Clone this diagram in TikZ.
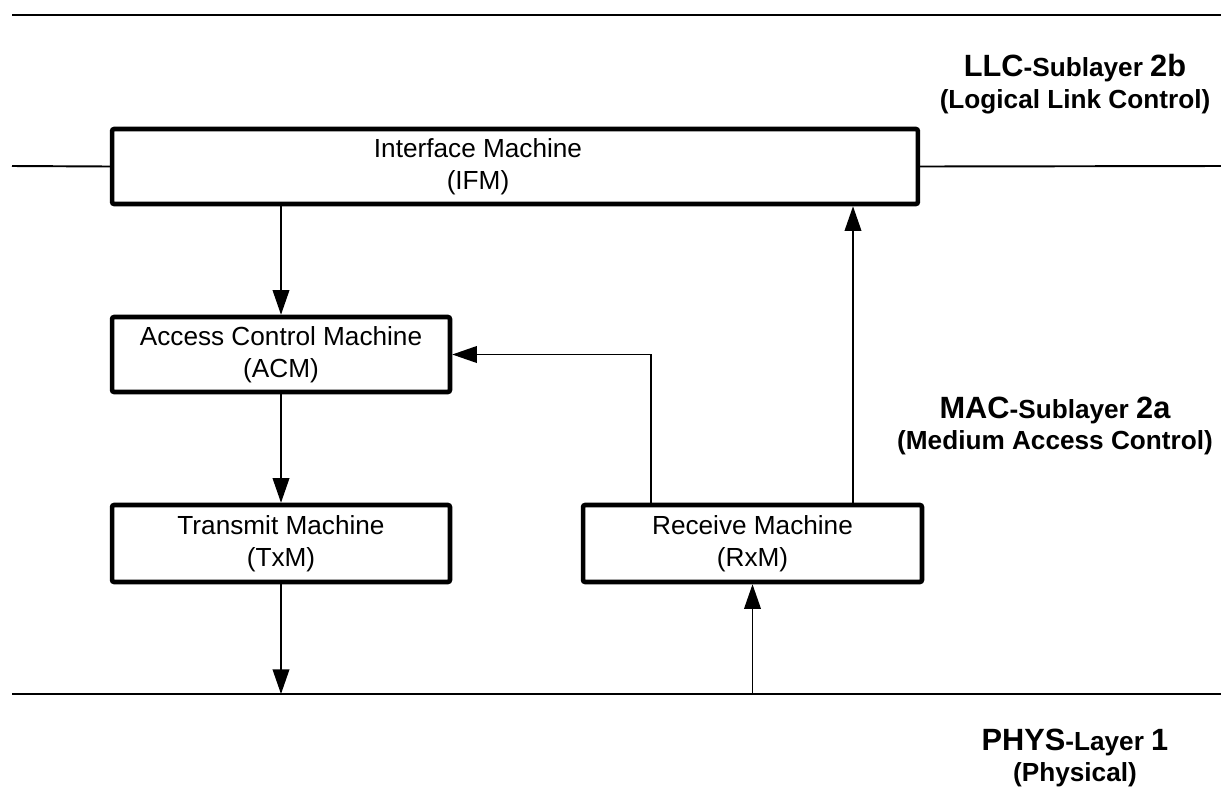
\documentclass[tikz,border=0pt]{standalone}
\usepackage{fontspec}
\setmainfont{Liberation Sans}
\usetikzlibrary{arrows.meta}

\tikzstyle{machine}=[draw=black,line width=2.6pt,rounded corners=1.2pt,fill=white,inner sep=0pt,align=center,font=\fontsize{14.9}{18}\selectfont]
\tikzstyle{boxtext}=[inner sep=0pt,align=center,font=\fontsize{14.9}{18}\selectfont]
\tikzstyle{layerline}=[draw=black,line width=1.1pt]
\tikzstyle{flow}=[draw=black,line width=0.8pt,-{Triangle[length=14pt,width=9.5pt]}]
\tikzstyle{sublayer}=[inner sep=0pt,align=center,font=\fontsize{14.9}{18}\selectfont\bfseries]
\newcommand{\layername}[1]{{\fontsize{17.5}{18}\selectfont #1}}

\begin{document}
\begin{tikzpicture}[x=0.02cm,y=-0.02cm]
   \useasboundingbox (0,0) rectangle (1221,802);

   \draw[layerline] (12,15) coordinate(topl) -- (1221,15) coordinate(topr);
   \draw[layerline] (12,694) coordinate(physl) -- (1221,694) coordinate(physr);

   \node[machine,minimum width=16.12cm,minimum height=1.5cm] (ifm) at (515,166.5) {};
   \node[boxtext] (ifmtext) at (478,166.5) {Interface Machine\\(IFM)};
   \node[machine,minimum width=6.76cm,minimum height=1.5cm] (acm) at (281,354.5) {Access Control Machine\\(ACM)};
   \node[machine,minimum width=6.76cm,minimum height=1.54cm] (txm) at (281,543.5) {Transmit Machine\\(TxM)};
   \node[machine,minimum width=6.78cm,minimum height=1.54cm] (rxm) at (752.5,543.5) {Receive Machine\\(RxM)};

   \draw[layerline] (12,166) coordinate(llcl) -- (ifm.west);
   \draw[layerline] (ifm.east) -- (1221,166) coordinate(llcr);

   \coordinate (back) at (651,0);
   \coordinate (up) at (853,0);

   \draw[flow] (ifm.south -| acm.north) -- (acm.north);
   \draw[flow] (acm.south) -- (txm.north);
   \draw[flow] (txm.south) -- (txm.south |- physl);
   \draw[flow] (rxm.south |- physl) -- (rxm.south);
   \draw[flow] (rxm.north -| up) -- (ifm.south -| up);
   \draw[flow] (rxm.north -| back) -- (back |- acm.east) -- (acm.east);

   \node[sublayer] (llc) at (1075,84) {\layername{LLC}-Sublayer \layername{2b}\\(Logical Link Control)};
   \node[sublayer] (mac) at (1055,426) {\layername{MAC}-Sublayer \layername{2a}\\(Medium Access Control)};
   \node[sublayer] (phys) at (1075,758) {\layername{PHYS}-Layer \layername{1}\\(Physical)};

\end{tikzpicture}
\end{document}
